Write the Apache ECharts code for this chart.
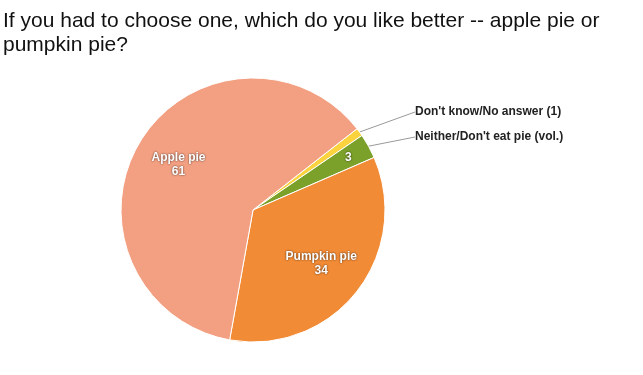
<!DOCTYPE html>
<html>
<head>
<meta charset="utf-8">
<script src="https://cdn.jsdelivr.net/npm/echarts@6/dist/echarts.min.js"></script>
<style>html,body{margin:0;padding:0;background:#fff}#c{width:643px;height:375px}</style>
</head>
<body>
<div id="c"></div>
<script>
var titleText = "If you had to choose one, which do you like better -- apple pie or\npumpkin pie?";
var categories = ["Don't know/No answer (1)", "Neither/Don't eat pie (vol.)", "Pumpkin pie", "Apple pie"];
var values = [1, 3, 34, 61];
var colors = ["#fbd33f", "#7ca12a", "#f28b36", "#f3a082"];
var insideNames = ["", "", "Pumpkin pie", "Apple pie"];
var outsideShown = [true, true, false, false];
var insideShown = [false, false, true, true];
var smallInsideShown = [false, true, false, false];

var chart = echarts.init(document.getElementById('c'), null, {renderer: 'canvas'});

var baseData = categories.map(function (c, i) {
  return {
    name: c, value: values[i],
    itemStyle: {color: colors[i]},
    label: {show: outsideShown[i]},
    labelLine: {show: outsideShown[i]}
  };
});
function ringData(shown) {
  return categories.map(function (c, i) {
    return {name: c, value: values[i], label: {show: shown[i]}};
  });
}
var outsideY = [112, 137];

var insideLabel = {
  position: 'inside',
  formatter: function (p) {
    var n = insideNames[p.dataIndex];
    return n ? n + '\n' + p.value : String(p.value);
  },
  fontFamily: 'Liberation Sans, Arial, sans-serif',
  fontSize: 12, fontWeight: 'bold', color: '#fff', lineHeight: 14,
  textShadowColor: 'rgba(0,0,0,0.75)', textShadowBlur: 2
};

chart.setOption({
  animation: false,
  title: {
    text: titleText,
    left: 3, top: 9, padding: 0,
    textStyle: {fontFamily: 'Liberation Sans, Arial, sans-serif', fontSize: 21, fontWeight: 'normal', color: '#111', lineHeight: 24}
  },
  series: [
    {
      type: 'pie',
      center: [253, 210],
      radius: 132,
      startAngle: 38,
      clockwise: true,
      avoidLabelOverlap: false,
      itemStyle: {borderColor: '#fff', borderWidth: 1},
      label: {
        position: 'outside',
        formatter: '{b}',
        fontFamily: 'Liberation Sans, Arial, sans-serif',
        fontSize: 12, fontWeight: 'bold', color: '#222'
      },
      labelLine: {length: 4, length2: 0, lineStyle: {color: '#999', width: 1}},
      labelLayout: function (p) {
        if (p.dataIndex > 1) return {};
        return {x: 415, y: outsideY[p.dataIndex], align: 'left', verticalAlign: 'middle'};
      },
      data: baseData
    },
    {
      type: 'pie',
      center: [253, 210],
      radius: [36, 132],
      startAngle: 38,
      clockwise: true,
      silent: true,
      avoidLabelOverlap: false,
      itemStyle: {color: 'rgba(0,0,0,0)', borderWidth: 0},
      label: insideLabel,
      labelLine: {show: false},
      data: ringData(insideShown)
    },
    {
      type: 'pie',
      center: [253, 210],
      radius: [80, 132],
      startAngle: 38,
      clockwise: true,
      silent: true,
      avoidLabelOverlap: false,
      itemStyle: {color: 'rgba(0,0,0,0)', borderWidth: 0},
      label: insideLabel,
      labelLine: {show: false},
      data: ringData(smallInsideShown)
    }
  ]
});
</script>
</body>
</html>
